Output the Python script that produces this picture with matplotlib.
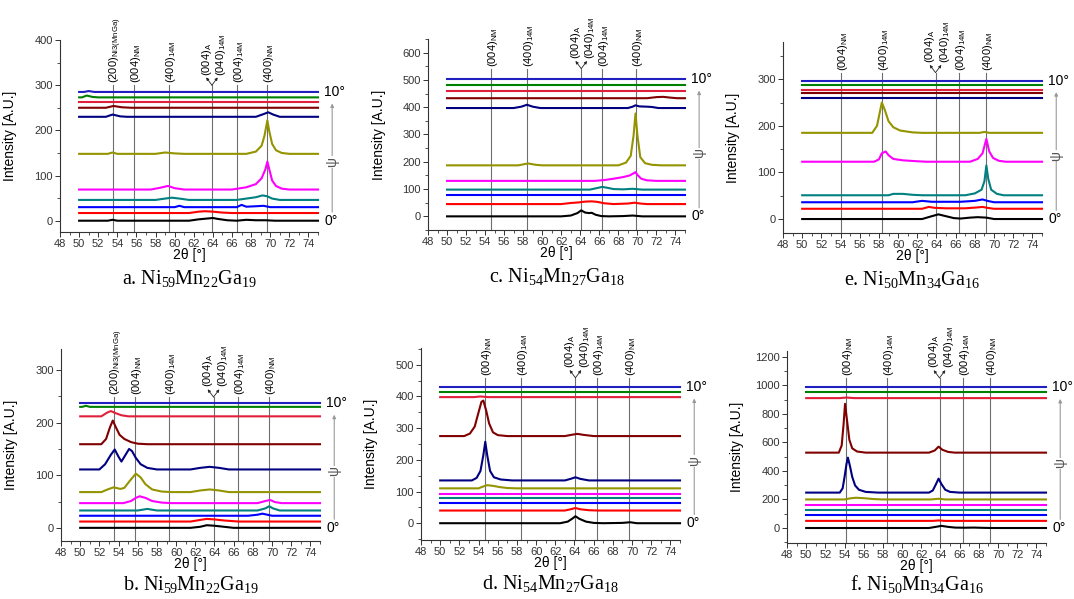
import matplotlib
matplotlib.use("Agg")
import matplotlib.pyplot as plt
import matplotlib.transforms as mtransforms
from matplotlib.ticker import MultipleLocator

plt.rcParams['font.family'] = ['Liberation Sans', 'DejaVu Sans']
plt.rcParams['mathtext.fontset'] = 'custom'
plt.rcParams['mathtext.rm'] = 'Liberation Serif'
plt.rcParams['mathtext.sf'] = 'Liberation Sans'

# ---------------- data ----------------
X_START, X_END = 50, 75
COLORS = ['#000000', '#ff0000', '#0000ff', '#008080', '#ff00ff', '#949400',
          '#000080', '#800000', '#e0203a', '#008000', '#2020c0']
PSI_LABELS = ['0°', '10°']

LBL_200 = r"(200)$_{\mathsf{Ni3(MnGa)}}$"
LBL_004NM = r"(004)$_{\mathsf{NM}}$"
LBL_400_14M = r"(400)$_{\mathsf{14M}}$"
LBL_004A = r"(004)$_{\mathsf{A}}$"
LBL_040_14M = r"(040)$_{\mathsf{14M}}$"
LBL_004_14M = r"(004)$_{\mathsf{14M}}$"
LBL_400NM = r"(400)$_{\mathsf{NM}}$"

# Panel a: Ni59Mn22Ga19 (curve offsets, psi = 0..10 deg) and peak profiles (2theta, intensity above baseline)
A_OFFSETS = [0, 17, 30, 46, 69, 148, 230, 250, 262, 273, 285]
A_PROFILES = [
    [(53.0, 0), (53.5, 2), (54, 0), (61.5, 0), (62.5, 3), (63.5, 5), (64, 6), (64.5, 4), (65.5, 1), (66.5, 0), (67.5, 2), (68.5, 1), (69.5, 1), (70.5, 0)],
    [(61.5, 0), (62.5, 3), (63.2, 4), (64, 3), (65, 1), (66, 0)],
    [(60, 0), (60.5, 3), (61, 0), (66.5, 0), (67, 5), (67.5, 1), (68.5, 2), (69.3, 3), (70, 0)],
    [(58, 0), (59, 3), (59.7, 5), (60.5, 3), (61.5, 0), (66.5, 0), (67.5, 3), (68.5, 6), (69.2, 10), (69.7, 8), (70.2, 3), (71, 0)],
    [(57.5, 0), (58.5, 4), (59.3, 8), (60, 3), (61, 0), (66, 0), (67.5, 5), (68.5, 12), (69.1, 25), (69.5, 45), (69.7, 62), (69.9, 45), (70.2, 20), (70.6, 8), (71.2, 2), (72, 0)],
    [(53, 0), (53.5, 3), (54, 0), (58, 0), (59, 3), (60, 1), (61, 0), (67.5, 0), (68.5, 5), (69.1, 18), (69.4, 40), (69.7, 74), (69.9, 50), (70.2, 22), (70.6, 8), (71.2, 2), (72, 0)],
    [(52.8, 0), (53.5, 5), (54.3, 1), (55, 0), (68.5, 0), (69.3, 6), (69.8, 10), (70.3, 5), (71, 0)],
    [(52.8, 0), (53.6, 4), (54.5, 1), (55.5, 0)],
    [],
    [(50.3, 0), (50.8, 4), (51.4, 1), (52, 0)],
    [(50.5, 0), (51, 2), (51.6, 0)],
]
A_PEAK_X = [53.5, 55.7, 59.4, 66.5, 69.7]
A_PEAK_LABELS = [LBL_200, LBL_004NM, LBL_400_14M, LBL_004_14M, LBL_400NM]
A_V_X = 63.9

# Panel b: Ni59Mn22Ga19
B_OFFSETS = [0, 12, 23, 33, 47, 68, 111, 159, 212, 230, 237]
B_PROFILES = [
    [(61.5, 0), (62.5, 2), (63.2, 5), (64, 4), (65, 2), (66, 0)],
    [(61.5, 0), (62.5, 3), (63.2, 5), (64, 4), (65, 2), (66.5, 0)],
    [(67.5, 0), (68.5, 2), (69, 4), (69.5, 2), (70, 0)],
    [(56, 0), (57, 3), (58, 0), (68.5, 0), (69.3, 4), (69.7, 8), (70.1, 4), (70.8, 0)],
    [(54.5, 0), (55.3, 4), (55.8, 10), (56.2, 13), (56.8, 10), (57.5, 4), (58.5, 1), (59.5, 0), (68.5, 0), (69.3, 4), (69.8, 6), (70.3, 2), (71, 0)],
    [(52.2, 0), (53, 6), (53.5, 9), (54.2, 6), (54.6, 8), (55.2, 22), (55.8, 35), (56.3, 28), (56.8, 15), (57.5, 5), (58.5, 1), (59.5, 0), (61.5, 0), (62.5, 3), (63.5, 5), (64.5, 3), (65.5, 0)],
    [(52, 0), (52.6, 10), (53.2, 28), (53.6, 38), (54, 24), (54.3, 15), (54.8, 30), (55.1, 39), (55.4, 35), (55.8, 22), (56.3, 10), (57, 3), (58, 0), (61.5, 0), (62.5, 3), (63.5, 5), (64.5, 3), (65.5, 0)],
    [(52.2, 0), (52.7, 10), (53.1, 32), (53.4, 45), (53.7, 33), (54.1, 18), (54.6, 10), (55.3, 4), (56, 1), (57, 0)],
    [(52.2, 0), (52.8, 7), (53.2, 10), (53.7, 6), (54.3, 2), (55, 0)],
    [(50.2, 0), (50.6, 2), (51, 0)],
    [],
]
B_PEAK_X = [53.5, 55.7, 59.3, 66.5, 69.7]
B_PEAK_LABELS = [LBL_200, LBL_004NM, LBL_400_14M, LBL_004_14M, LBL_400NM]
B_V_X = 63.9

# Panel c: Ni54Mn27Ga18
C_OFFSETS = [0, 45, 78, 98, 130, 187, 397, 433, 460, 480, 503]
C_PROFILES = [
    [(62, 0), (63, 3), (63.7, 12), (64.1, 22), (64.5, 14), (64.9, 12), (65.2, 13), (65.6, 6), (66.2, 1), (67, 0), (68.5, 1), (69.5, 3), (70.5, 0)],
    [(62, 0), (63, 4), (63.8, 6), (64.5, 9), (65.2, 10), (65.8, 8), (66.5, 3), (67.5, 0), (69, 2), (69.7, 5), (70.3, 2), (71, 0)],
    [],
    [(65, 0), (65.8, 6), (66.3, 10), (66.8, 7), (67.5, 2), (68.5, 1), (69.5, 3), (70.5, 0)],
    [(65.5, 0), (66.5, 3), (67.5, 8), (68.5, 14), (69.2, 20), (69.6, 28), (69.8, 32), (70.0, 22), (70.4, 8), (71, 2), (72, 0)],
    [(57.5, 0), (58.5, 7), (59.3, 2), (60, 0), (68, 0), (68.8, 10), (69.3, 35), (69.6, 110), (69.8, 190), (70.0, 110), (70.3, 30), (70.8, 8), (71.5, 2), (72.5, 0)],
    [(57, 0), (57.8, 5), (58.4, 12), (59, 5), (59.8, 0), (69, 0), (69.5, 5), (69.8, 10), (70.2, 6), (71, 5), (71.5, 4), (72.2, 0)],
    [(71, 0), (72, 4), (72.7, 5), (73.5, 2), (74.2, 0)],
    [],
    [],
    [],
]
C_PEAK_X = [54.6, 58.4, 66.3, 69.8]
C_PEAK_LABELS = [LBL_004NM, LBL_400_14M, LBL_004_14M, LBL_400NM]
C_V_X = 64.1

# Panel d: Ni54Mn27Ga18
D_OFFSETS = [0, 40, 63, 78, 93, 110, 135, 275, 398, 413, 430]
D_PROFILES = [
    [(62.5, 0), (63.3, 5), (63.8, 15), (64.1, 22), (64.5, 14), (65.2, 5), (66, 1), (67, 0), (69, 1), (69.8, 3), (70.5, 0)],
    [(63, 0), (63.6, 4), (64.1, 8), (64.6, 4), (65.5, 1), (66.5, 0)],
    [],
    [],
    [],
    [(54, 0), (54.5, 6), (54.9, 10), (55.5, 8), (56.2, 4), (57, 1), (58, 0)],
    [(53.3, 0), (53.8, 8), (54.2, 30), (54.5, 80), (54.7, 122), (54.9, 80), (55.2, 30), (55.6, 10), (56.3, 3), (57.5, 0), (63, 0), (63.6, 5), (64.1, 10), (64.6, 5), (65.5, 0)],
    [(52.5, 0), (53.1, 8), (53.6, 30), (54.0, 75), (54.3, 108), (54.5, 112), (54.8, 80), (55.1, 40), (55.5, 12), (56, 3), (57, 0), (63, 0), (63.7, 4), (64.3, 7), (64.9, 4), (66, 0)],
    [(53.5, 0), (54.2, 2), (55, 0)],
    [],
    [],
]
D_PEAK_X = [54.7, 58.4, 66.3, 69.7]
D_PEAK_LABELS = [LBL_004NM, LBL_400_14M, LBL_004_14M, LBL_400NM]
D_V_X = 64.1

# Panel e: Ni50Mn34Ga16
E_OFFSETS = [0, 22, 36, 51, 123, 185, 260, 270, 278, 288, 297]
E_PROFILES = [
    [(62.5, 0), (63.5, 6), (64.2, 10), (65, 6), (65.8, 2), (66.5, 1), (67.5, 3), (68.3, 4), (69.2, 3), (70, 0)],
    [(62.5, 0), (63.2, 4), (63.8, 2), (65, 1), (67, 1), (68.3, 3), (68.8, 4), (69.3, 2), (70, 0)],
    [(61.5, 0), (62.5, 3), (63.5, 1), (66.5, 1), (68, 3), (68.8, 6), (69.3, 3), (70, 0)],
    [(59, 0), (59.5, 3), (60.5, 3), (61.5, 1), (62.5, 0), (67, 0), (68, 4), (68.7, 12), (69.0, 30), (69.2, 64), (69.4, 35), (69.7, 12), (70.3, 3), (71, 0)],
    [(57.5, 0), (58.0, 5), (58.3, 18), (58.5, 20), (58.7, 22), (59.0, 14), (59.5, 6), (60.5, 3), (62, 1), (63, 0), (67.5, 0), (68.3, 6), (68.8, 18), (69.2, 49), (69.5, 22), (69.9, 8), (70.5, 2), (71.2, 0)],
    [(57.3, 0), (57.8, 15), (58.1, 45), (58.3, 65), (58.6, 50), (59.0, 25), (59.5, 12), (60.2, 5), (61.5, 1), (62.5, 0), (68.5, 0), (69, 2), (69.5, 0)],
    [],
    [],
    [],
    [],
    [],
]
E_PEAK_X = [54.0, 58.3, 66.3, 69.2]
E_PEAK_LABELS = [LBL_004NM, LBL_400_14M, LBL_004_14M, LBL_400NM]
E_V_X = 63.9

# Panel f: Ni50Mn34Ga16
F_OFFSETS = [0, 50, 88, 127, 163, 200, 248, 528, 910, 950, 985]
F_PROFILES = [
    [(62.8, 0), (63.5, 8), (64.1, 15), (64.8, 8), (65.5, 3), (66.5, 2), (67.5, 3), (68.5, 1), (69.5, 0)],
    [(63.2, 0), (63.8, 3), (64.5, 0)],
    [],
    [],
    [],
    [(54, 0), (54.6, 8), (55.2, 12), (56, 9), (57, 3), (58, 0), (63, 0), (63.8, 5), (64.5, 0)],
    [(53.5, 0), (53.8, 30), (54.0, 110), (54.2, 200), (54.35, 245), (54.55, 190), (54.8, 110), (55.1, 50), (55.5, 20), (56.2, 5), (57.5, 0), (62.8, 0), (63.2, 15), (63.5, 55), (63.8, 98), (64.1, 60), (64.5, 20), (65, 5), (66, 0)],
    [(53.4, 0), (53.7, 50), (53.9, 200), (54.05, 342), (54.25, 230), (54.5, 90), (54.8, 30), (55.3, 8), (56.2, 0), (62.8, 0), (63.4, 15), (63.8, 42), (64.2, 20), (64.8, 5), (65.5, 0)],
    [(53.5, 0), (54.2, 4), (55, 0)],
    [],
    [],
]
F_PEAK_X = [54.1, 58.4, 66.3, 69.2]
F_PEAK_LABELS = [LBL_004NM, LBL_400_14M, LBL_004_14M, LBL_400NM]
F_V_X = 63.9

# ---------------- layout ----------------
W, H = 1074, 599
PANELS = [
    # data, pixel box (left, right, top, bottom), ylim, ytick step, label height (axes frac), caption, caption gap
    (A_OFFSETS, A_PROFILES, A_PEAK_X, A_PEAK_LABELS, A_V_X, (60, 318, 40, 232), (-25, 400), 100, 0.765,
     r"a. Ni$_{59}$Mn$_{22}$Ga$_{19}$", 47),
    (C_OFFSETS, C_PROFILES, C_PEAK_X, C_PEAK_LABELS, C_V_X, (428, 685, 39, 230), (-50, 650), 100, 0.845,
     r"c. Ni$_{54}$Mn$_{27}$Ga$_{18}$", 47),
    (E_OFFSETS, E_PROFILES, E_PEAK_X, E_PEAK_LABELS, E_V_X, (783, 1042, 42, 233), (-30, 380), 100, 0.84,
     r"e. Ni$_{50}$Mn$_{34}$Ga$_{16}$", 47),
    (B_OFFSETS, B_PROFILES, B_PEAK_X, B_PEAK_LABELS, B_V_X, (61, 320, 349, 541), (-25, 340), 100, 0.75,
     r"b. Ni$_{59}$Mn$_{22}$Ga$_{19}$", 44),
    (D_OFFSETS, D_PROFILES, D_PEAK_X, D_PEAK_LABELS, D_V_X, (421, 680, 348, 540), (-53, 553), 100, 0.845,
     r"d. Ni$_{54}$Mn$_{27}$Ga$_{18}$", 44),
    (F_OFFSETS, F_PROFILES, F_PEAK_X, F_PEAK_LABELS, F_V_X, (787, 1046, 351, 543), (-105, 1240), 200, 0.86,
     r"f. Ni$_{50}$Mn$_{34}$Ga$_{16}$", 42),
]

fig = plt.figure(figsize=(W / 100, H / 100), dpi=100)
GRAY = '#6e6e6e'
LBL_SIZE = 8

for offsets, profiles, peak_x, peak_labels, v_x, box, ylim, ystep, lab_y, caption, cap_gap in PANELS:
    l, r, t, b = box
    ax = fig.add_axes([l / W, 1 - b / H, (r - l) / W, (b - t) / H])
    ax.set_xlim(48, 75)
    ax.set_ylim(*ylim)
    for s in ('top', 'right'):
        ax.spines[s].set_visible(False)
    for s in ('left', 'bottom'):
        ax.spines[s].set_linewidth(0.8)
        ax.spines[s].set_color('#333333')
    ax.xaxis.set_major_locator(MultipleLocator(2))
    ax.xaxis.set_minor_locator(MultipleLocator(1))
    ax.yaxis.set_major_locator(MultipleLocator(ystep))
    ax.yaxis.set_minor_locator(MultipleLocator(ystep / 2))
    ax.set_yticks([v for v in range(0, int(ylim[1]) + 1, ystep)])
    ax.tick_params(which='major', length=3.5, width=0.7, labelsize=8, pad=1.5, colors='#333333')
    ax.tick_params(which='minor', length=2, width=0.6, colors='#333333')
    ax.set_xlabel('2θ [°]', fontsize=10)
    ax.set_ylabel('Intensity [A.U.]', fontsize=10)
    ax.xaxis.set_label_coords(0.5, -0.085)
    ax.yaxis.set_label_coords(-0.165, 0.5)

    trans = mtransforms.blended_transform_factory(ax.transData, ax.transAxes)

    # reference lines and peak labels
    for x, lab in zip(peak_x, peak_labels):
        ax.plot([x, x], [0, lab_y], color=GRAY, lw=0.8, transform=trans, clip_on=False, zorder=1)
        ax.text(x, lab_y + 0.01, lab, transform=trans, rotation=90, rotation_mode='anchor',
                ha='left', va='center_baseline', fontsize=LBL_SIZE, clip_on=False)
    ax.plot([v_x, v_x], [0, lab_y], color=GRAY, lw=0.8, transform=trans, clip_on=False, zorder=1)
    for dx, lab in ((-0.76, LBL_004A), (0.76, LBL_040_14M)):
        ax.annotate('', xy=(v_x + dx * 0.8, lab_y + 0.04), xytext=(v_x, lab_y),
                    xycoords=trans, textcoords=trans,
                    arrowprops=dict(arrowstyle='-|>', lw=0.6, color='#222222',
                                    mutation_scale=4, shrinkA=0, shrinkB=0))
        ax.text(v_x + dx, lab_y + 0.05, lab, transform=trans, rotation=90, rotation_mode='anchor',
                ha='left', va='center_baseline', fontsize=LBL_SIZE, clip_on=False)

    # curves
    for off, prof, col in zip(offsets, profiles, COLORS):
        xs = [X_START] + [p[0] for p in prof] + [X_END]
        ys = [off] + [off + p[1] for p in prof] + [off]
        ax.plot(xs, ys, color=col, lw=1.5, zorder=3, clip_on=False)

    # psi arrow and labels
    y0 = (0 - ylim[0]) / (ylim[1] - ylim[0])
    y1 = (offsets[-1] - ylim[0]) / (ylim[1] - ylim[0])
    ax.text(1.025, y0, PSI_LABELS[0], transform=ax.transAxes, fontsize=10, ha='left', va='center')
    ax.text(1.025, y1, PSI_LABELS[1], transform=ax.transAxes, fontsize=10, ha='left', va='center')
    ax.annotate('', xy=(1.055, y1 - 0.06), xytext=(1.055, y0 + 0.045),
                xycoords='axes fraction', textcoords='axes fraction',
                arrowprops=dict(arrowstyle='-|>', lw=0.8, color='#9a9a9a',
                                mutation_scale=5, shrinkA=0, shrinkB=0))
    ax.text(1.055, (y0 + y1) / 2 - 0.03, 'ψ', transform=ax.transAxes, fontsize=10, rotation=90,
            ha='center', va='center', color='#555555',
            bbox=dict(facecolor='white', edgecolor='none', pad=0.5))

    # caption
    fig.text((l + r) / 2 / W, 1 - (b + cap_gap) / H, caption, fontsize=14.5,
             family=['Liberation Serif', 'DejaVu Serif'], ha='center', va='center')

fig.savefig('out.png', dpi=100, facecolor='white')
